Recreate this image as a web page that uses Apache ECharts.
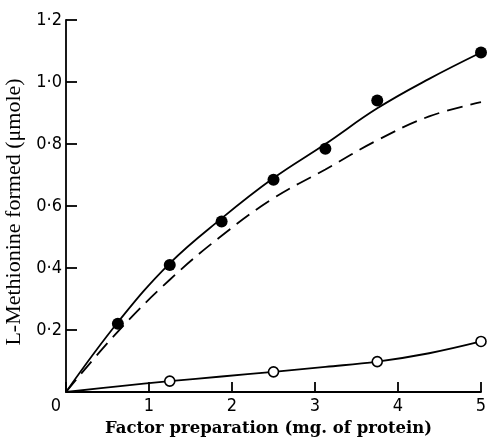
<!DOCTYPE html>
<html>
<head>
<meta charset="utf-8">
<script src="https://cdn.jsdelivr.net/npm/echarts@6/dist/echarts.min.js"></script>
<style>
  html, body { margin: 0; padding: 0; background: #fff; }
  #chart { width: 489px; height: 441px; }
</style>
</head>
<body>
<div id="chart"></div>
<script>
// measured points
const filledX = [0.625, 1.25, 1.875, 2.5, 3.125, 3.75, 5];
const filledY = [0.22, 0.41, 0.55, 0.685, 0.785, 0.94, 1.095];
const openX = [1.25, 2.5, 3.75, 5];
const openY = [0.035, 0.065, 0.098, 0.163];

// curves
const curveX = [0, 0.625, 1.25, 1.875, 2.5, 3.125, 3.75, 4.375, 5];
const solidCurve = [0, 0.225, 0.415, 0.56, 0.69, 0.8, 0.915, 1.01, 1.095];
const dashedCurve = [0, 0.195, 0.362, 0.504, 0.625, 0.718, 0.812, 0.889, 0.935];
const openCurve = [0, 0.018, 0.035, 0.05, 0.065, 0.081, 0.098, 0.125, 0.163];

const yTicks = ['0', '0·2', '0·4', '0·6', '0·8', '1·0', '1·2'];

const pairs = (xs, ys) => xs.map((x, i) => [x, ys[i]]);

const chart = echarts.init(document.getElementById('chart'));

const option = {
  backgroundColor: '#fff',
  animation: false,
  grid: { left: 66, right: 8, top: 20, bottom: 49, containLabel: false, outerBoundsMode: 'none' },
  xAxis: {
    type: 'value',
    min: 0,
    max: 5,
    interval: 1,
    name: 'Factor preparation (mg. of protein)',
    nameLocation: 'middle',
    nameGap: 28,
    nameTextStyle: {
      fontFamily: 'DejaVu Serif',
      fontWeight: 'bold',
      fontSize: 16.5,
      color: '#000',
      padding: [0, 10, 0, 0]
    },
    axisLine: { lineStyle: { color: '#000', width: 1.8 } },
    axisTick: { inside: true, length: 10, lineStyle: { color: '#000', width: 1.8 } },
    splitLine: { show: false },
    axisLabel: {
      color: '#000',
      fontFamily: 'DejaVu Sans Condensed',
      fontSize: 18,
      margin: 5,
      formatter: (v) => (v === 0 ? '{z|0}' : String(v)),
      rich: { z: { fontFamily: 'DejaVu Sans Condensed', fontSize: 18, color: '#000', padding: [0, 20, 0, 0] } }
    }
  },
  yAxis: {
    type: 'value',
    min: 0,
    max: 1.2,
    interval: 0.2,
    name: 'L-Methionine formed (μmole)',
    nameLocation: 'middle',
    nameGap: 40,
    nameTextStyle: {
      fontFamily: 'Liberation Serif',
      fontSize: 22,
      color: '#000',
      padding: [0, 12, 0, 0]
    },
    axisLine: { lineStyle: { color: '#000', width: 1.8 } },
    axisTick: { inside: true, length: 11, lineStyle: { color: '#000', width: 1.8 } },
    splitLine: { show: false },
    axisLabel: {
      color: '#000',
      fontFamily: 'DejaVu Sans Condensed',
      fontSize: 18,
      margin: 4,
      formatter: (v) => {
        const i = Math.round(v / 0.2);
        return i === 0 ? '' : yTicks[i];
      }
    }
  },
  series: [
    {
      type: 'line',
      data: pairs(curveX, solidCurve),
      smooth: 0.4,
      showSymbol: false,
      lineStyle: { color: '#000', width: 1.8 }
    },
    {
      type: 'line',
      data: pairs(curveX, dashedCurve),
      smooth: 0.4,
      showSymbol: false,
      lineStyle: { color: '#000', width: 1.8, type: [16, 8] }
    },
    {
      type: 'line',
      data: pairs(curveX, openCurve),
      smooth: 0.4,
      showSymbol: false,
      lineStyle: { color: '#000', width: 1.8 }
    },
    {
      type: 'scatter',
      data: pairs(filledX, filledY),
      symbol: 'circle',
      symbolSize: 12,
      itemStyle: { color: '#000', opacity: 1 },
      z: 5
    },
    {
      type: 'scatter',
      data: pairs(openX, openY),
      symbol: 'circle',
      symbolSize: 10,
      itemStyle: { color: '#fff', borderColor: '#000', borderWidth: 1.6, opacity: 1 },
      z: 5
    }
  ]
};

chart.setOption(option);
</script>
</body>
</html>
